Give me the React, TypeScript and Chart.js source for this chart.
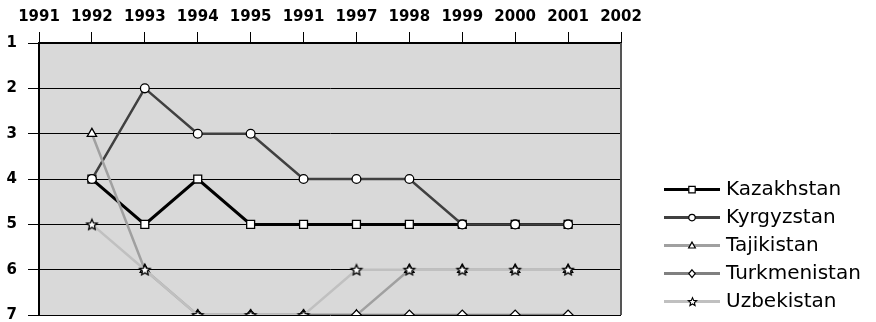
import React, { useEffect, useRef } from 'react';
import { Chart, registerables } from 'chart.js';

Chart.register(...registerables);

// Category labels along the top axis (as printed in the source table)
const years = ['1991', '1992', '1993', '1994', '1995', '1991', '1997', '1998', '1999', '2000', '2001', '2002'];

// Rank per year (1 = best); null where a country has no entry
const kazakhstan = [null, 4, 5, 4, 5, 5, 5, 5, 5, 5, 5, null];
const kyrgyzstan = [null, 4, 2, 3, 3, 4, 4, 4, 5, 5, 5, null];
const tajikistan = [null, 3, 6, 7, 7, 7, 7, 6, 6, 6, 6, null];
const turkmenistan = [null, null, null, 7, 7, 7, 7, 7, 7, 7, 7, null];
const uzbekistan = [null, 5, 6, 7, 7, 7, 6, 6, 6, 6, 6, null];

const countries = ['Kazakhstan', 'Kyrgyzstan', 'Tajikistan', 'Turkmenistan', 'Uzbekistan'];
const rankMin = 1;
const rankMax = 7;

const FONT = '"DejaVu Sans", Verdana, sans-serif';

function makeStar(outer: number, inner: number, lw: number): HTMLCanvasElement {
  const size = Math.ceil(outer * 2 + 4);
  const c = document.createElement('canvas');
  c.width = size;
  c.height = size;
  const ctx = c.getContext('2d')!;
  const cx = size / 2;
  const cy = size / 2 + 0.5;
  ctx.beginPath();
  for (let i = 0; i < 10; i++) {
    const r = i % 2 === 0 ? outer : inner;
    const a = -Math.PI / 2 + (i * Math.PI) / 5;
    const x = cx + r * Math.cos(a);
    const y = cy + r * Math.sin(a);
    if (i === 0) ctx.moveTo(x, y);
    else ctx.lineTo(x, y);
  }
  ctx.closePath();
  ctx.fillStyle = '#ffffff';
  ctx.fill();
  ctx.lineWidth = lw;
  ctx.strokeStyle = '#000000';
  ctx.stroke();
  return c;
}

type Marker = 'rect' | 'circle' | 'triangle' | 'rectRot' | 'star';

function drawMarker(ctx: CanvasRenderingContext2D, kind: Marker, x: number, y: number, r: number, star: HTMLCanvasElement) {
  if (kind === 'star') {
    ctx.drawImage(star, Math.round(x - star.width / 2), Math.round(y - star.height / 2));
    return;
  }
  ctx.beginPath();
  if (kind === 'rect') {
    ctx.rect(x - r, y - r, 2 * r, 2 * r);
  } else if (kind === 'circle') {
    ctx.arc(x, y, r, 0, Math.PI * 2);
  } else if (kind === 'triangle') {
    ctx.moveTo(x, y - r * 1.1);
    ctx.lineTo(x + r * 1.05, y + r * 0.75);
    ctx.lineTo(x - r * 1.05, y + r * 0.75);
    ctx.closePath();
  } else {
    ctx.moveTo(x, y - r * 1.2);
    ctx.lineTo(x + r * 1.0, y);
    ctx.lineTo(x, y + r * 1.2);
    ctx.lineTo(x - r * 1.0, y);
    ctx.closePath();
  }
  ctx.fillStyle = '#ffffff';
  ctx.fill();
  ctx.lineWidth = 1.2;
  ctx.strokeStyle = '#000000';
  ctx.stroke();
}

export default function App() {
  const canvasRef = useRef<HTMLCanvasElement | null>(null);

  useEffect(() => {
    const canvas = canvasRef.current;
    if (!canvas) return;

    const chartStar = makeStar(5.6, 2.6, 1.3);
    const legendStar = makeStar(4.4, 2.0, 1.1);

    const series = [kazakhstan, kyrgyzstan, tajikistan, turkmenistan, uzbekistan];
    const colors = ['#000000', '#404040', '#a0a0a0', '#808080', '#c0c0c0'];
    const widths = [3, 2.5, 2.5, 2.5, 2.5];
    const styles: any[] = ['rect', 'circle', 'triangle', 'rectRot', chartStar];
    const radii = [5.6, 4.4, 5.4, 5, 5.6];
    const legendMarkers: Marker[] = ['rect', 'circle', 'triangle', 'rectRot', 'star'];

    const datasets = countries.map((name, i) => ({
      label: name,
      data: series[i],
      borderColor: colors[i],
      borderWidth: widths[i],
      backgroundColor: colors[i],
      pointStyle: styles[i],
      pointRadius: radii[i],
      pointHoverRadius: radii[i],
      pointBackgroundColor: '#ffffff',
      pointBorderColor: '#000000',
      pointBorderWidth: 1.3,
      tension: 0,
      spanGaps: false,
      fill: false,
      // later series are painted above earlier ones
      order: countries.length - 1 - i,
    }));

    const plotFrame = {
      id: 'plotFrame',
      beforeDraw(chart: any) {
        const { ctx, chartArea: a } = chart;
        ctx.save();
        ctx.fillStyle = '#d9d9d9';
        ctx.fillRect(a.left, a.top, a.right - a.left, a.bottom - a.top);
        ctx.restore();
      },
      afterDraw(chart: any) {
        const { ctx, chartArea: a } = chart;
        ctx.save();
        ctx.strokeStyle = '#555555';
        ctx.lineWidth = 2;
        ctx.beginPath();
        ctx.moveTo(a.right, a.top);
        ctx.lineTo(a.right, a.bottom);
        ctx.stroke();
        ctx.restore();
      },
    };

    const lineLegend = {
      id: 'lineLegend',
      afterDraw(chart: any) {
        const { ctx, chartArea: a } = chart;
        const x0 = a.right + 43;
        const x1 = a.right + 99;
        const mx = (x0 + x1) / 2;
        const tx = a.right + 105;
        const y0 = a.bottom - 125.5;
        const step = 28;
        ctx.save();
        chart.data.datasets.forEach((ds: any, i: number) => {
          const y = y0 + i * step;
          ctx.strokeStyle = ds.borderColor;
          ctx.lineWidth = 3;
          ctx.beginPath();
          ctx.moveTo(x0, y);
          ctx.lineTo(x1, y);
          ctx.stroke();
          drawMarker(ctx, legendMarkers[i], mx, y, 3.2, legendStar);
          ctx.fillStyle = '#000000';
          ctx.font = `20px ${FONT}`;
          ctx.textAlign = 'left';
          ctx.textBaseline = 'middle';
          ctx.fillText(ds.label, tx, y + 0.5);
        });
        ctx.restore();
      },
    };

    const chart = new Chart(canvas, {
      type: 'line',
      data: { labels: years, datasets },
      options: {
        animation: false,
        responsive: false,
        maintainAspectRatio: false,
        layout: { padding: { top: 0, left: 0, right: 255, bottom: 6 } },
        plugins: {
          legend: { display: false },
          tooltip: { enabled: false },
        },
        scales: {
          x: {
            type: 'category',
            position: 'top',
            offset: false,
            afterFit(scale: any) {
              scale.height = 43;
              scale.paddingLeft = 0;
              scale.paddingRight = 0;
            },
            grid: {
              drawOnChartArea: false,
              drawTicks: true,
              tickLength: 11,
              color: '#000000',
              lineWidth: 1,
            },
            border: { display: true, color: '#000000', width: 2 },
            ticks: {
              autoSkip: false,
              maxRotation: 0,
              padding: 6,
              color: '#000000',
              font: { family: FONT, size: 15, weight: 'bold' },
            },
          },
          y: {
            type: 'linear',
            reverse: true,
            min: rankMin,
            max: rankMax,
            afterFit(scale: any) {
              scale.width = 39;
              scale.paddingTop = 0;
              scale.paddingBottom = 0;
            },
            grid: {
              drawOnChartArea: true,
              drawTicks: true,
              tickLength: 11,
              color: '#000000',
              lineWidth: 1,
            },
            border: { display: true, color: '#000000', width: 2 },
            ticks: {
              stepSize: 1,
              padding: 11,
              color: '#000000',
              font: { family: FONT, size: 15, weight: 'bold' },
            },
          },
        },
      } as any,
      plugins: [plotFrame, lineLegend],
    });

    return () => chart.destroy();
  }, []);

  return (
    <div style={{ position: 'absolute', left: 0, top: 0, width: 876, height: 322, background: '#ffffff' }}>
      <canvas ref={canvasRef} width={876} height={322} style={{ display: 'block' }} />
    </div>
  );
}
